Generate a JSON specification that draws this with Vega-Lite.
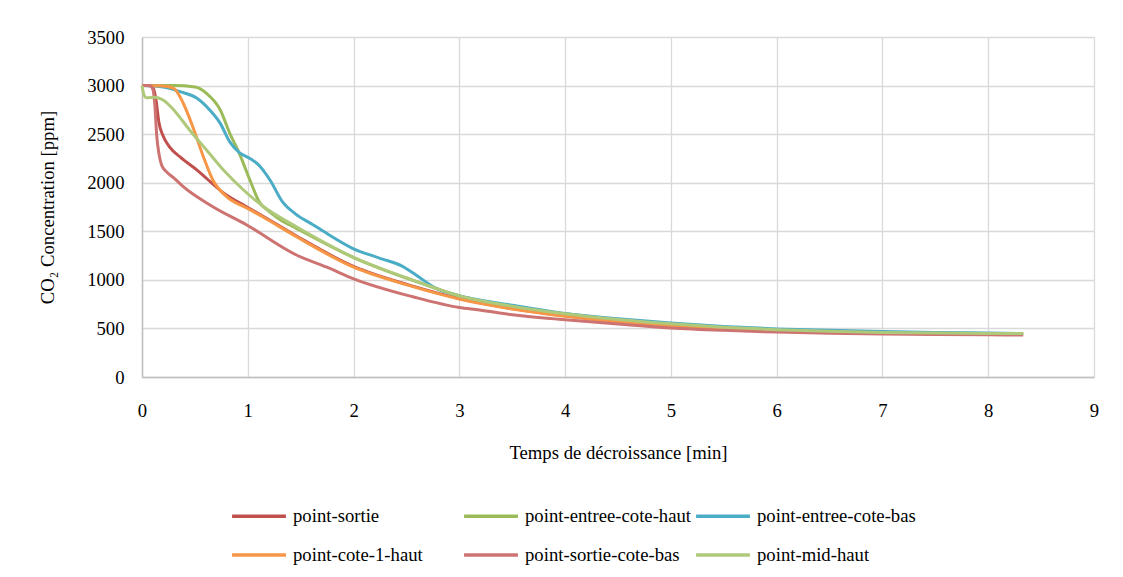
{
  "$schema": "https://vega.github.io/schema/vega-lite/v6.json",
  "autosize": {"type": "none"},
  "padding": {"left": 142, "top": 37, "right": 29, "bottom": 200},
  "width": 952,
  "height": 340,
  "background": "white",
  "config": {
    "font": "Liberation Serif",
    "view": {"stroke": null},
    "axis": {"labelFont": "Liberation Serif", "titleFont": "Liberation Serif", "labelFontSize": 18.7, "titleFontSize": 18.7, "labelColor": "#000000", "titleColor": "#000000", "titleFontWeight": "normal", "gridColor": "#D9D9D9", "gridWidth": 1.3, "ticks": false},
    "legend": {"labelFont": "Liberation Serif", "labelFontSize": 18.7, "labelColor": "#000000"}
  },
  "data": {"values": [
    {"serie": "point-sortie", "t": 0, "ppm": 3000},
    {"serie": "point-sortie", "t": 0.05, "ppm": 3000},
    {"serie": "point-sortie", "t": 0.1, "ppm": 2990},
    {"serie": "point-sortie", "t": 0.13, "ppm": 2870},
    {"serie": "point-sortie", "t": 0.16, "ppm": 2620},
    {"serie": "point-sortie", "t": 0.2, "ppm": 2480},
    {"serie": "point-sortie", "t": 0.26, "ppm": 2370},
    {"serie": "point-sortie", "t": 0.36, "ppm": 2265},
    {"serie": "point-sortie", "t": 0.52, "ppm": 2130},
    {"serie": "point-sortie", "t": 0.77, "ppm": 1895},
    {"serie": "point-sortie", "t": 1.0, "ppm": 1745},
    {"serie": "point-sortie", "t": 1.14, "ppm": 1658},
    {"serie": "point-sortie", "t": 1.46, "ppm": 1452},
    {"serie": "point-sortie", "t": 2.0, "ppm": 1138},
    {"serie": "point-sortie", "t": 2.56, "ppm": 935},
    {"serie": "point-sortie", "t": 3.0, "ppm": 808},
    {"serie": "point-sortie", "t": 3.5, "ppm": 705},
    {"serie": "point-sortie", "t": 4.0, "ppm": 630},
    {"serie": "point-sortie", "t": 4.5, "ppm": 573},
    {"serie": "point-sortie", "t": 5.0, "ppm": 528},
    {"serie": "point-sortie", "t": 5.5, "ppm": 498},
    {"serie": "point-sortie", "t": 6.0, "ppm": 476},
    {"serie": "point-sortie", "t": 6.5, "ppm": 462},
    {"serie": "point-sortie", "t": 7.0, "ppm": 452},
    {"serie": "point-sortie", "t": 7.5, "ppm": 446},
    {"serie": "point-sortie", "t": 8.0, "ppm": 442},
    {"serie": "point-sortie", "t": 8.33, "ppm": 440},

    {"serie": "point-entree-cote-haut", "t": 0, "ppm": 3000},
    {"serie": "point-entree-cote-haut", "t": 0.3, "ppm": 3000},
    {"serie": "point-entree-cote-haut", "t": 0.5, "ppm": 2985},
    {"serie": "point-entree-cote-haut", "t": 0.61, "ppm": 2920},
    {"serie": "point-entree-cote-haut", "t": 0.74, "ppm": 2749},
    {"serie": "point-entree-cote-haut", "t": 0.83, "ppm": 2508},
    {"serie": "point-entree-cote-haut", "t": 0.92, "ppm": 2302},
    {"serie": "point-entree-cote-haut", "t": 1.02, "ppm": 2028},
    {"serie": "point-entree-cote-haut", "t": 1.11, "ppm": 1800},
    {"serie": "point-entree-cote-haut", "t": 1.2, "ppm": 1705},
    {"serie": "point-entree-cote-haut", "t": 1.3, "ppm": 1625},
    {"serie": "point-entree-cote-haut", "t": 1.46, "ppm": 1530},
    {"serie": "point-entree-cote-haut", "t": 2.0, "ppm": 1230},
    {"serie": "point-entree-cote-haut", "t": 2.56, "ppm": 995},
    {"serie": "point-entree-cote-haut", "t": 3.03, "ppm": 826},
    {"serie": "point-entree-cote-haut", "t": 3.5, "ppm": 725},
    {"serie": "point-entree-cote-haut", "t": 4.0, "ppm": 650},
    {"serie": "point-entree-cote-haut", "t": 4.5, "ppm": 590},
    {"serie": "point-entree-cote-haut", "t": 5.0, "ppm": 545},
    {"serie": "point-entree-cote-haut", "t": 5.5, "ppm": 510},
    {"serie": "point-entree-cote-haut", "t": 6.0, "ppm": 485},
    {"serie": "point-entree-cote-haut", "t": 6.5, "ppm": 468},
    {"serie": "point-entree-cote-haut", "t": 7.0, "ppm": 458},
    {"serie": "point-entree-cote-haut", "t": 7.5, "ppm": 452},
    {"serie": "point-entree-cote-haut", "t": 8.0, "ppm": 449},
    {"serie": "point-entree-cote-haut", "t": 8.33, "ppm": 447},

    {"serie": "point-entree-cote-bas", "t": 0, "ppm": 3000},
    {"serie": "point-entree-cote-bas", "t": 0.2, "ppm": 2985},
    {"serie": "point-entree-cote-bas", "t": 0.36, "ppm": 2937},
    {"serie": "point-entree-cote-bas", "t": 0.52, "ppm": 2869},
    {"serie": "point-entree-cote-bas", "t": 0.64, "ppm": 2749},
    {"serie": "point-entree-cote-bas", "t": 0.74, "ppm": 2611},
    {"serie": "point-entree-cote-bas", "t": 0.83, "ppm": 2420},
    {"serie": "point-entree-cote-bas", "t": 0.92, "ppm": 2310},
    {"serie": "point-entree-cote-bas", "t": 1.02, "ppm": 2250},
    {"serie": "point-entree-cote-bas", "t": 1.11, "ppm": 2175},
    {"serie": "point-entree-cote-bas", "t": 1.21, "ppm": 2028},
    {"serie": "point-entree-cote-bas", "t": 1.33, "ppm": 1800},
    {"serie": "point-entree-cote-bas", "t": 1.45, "ppm": 1680},
    {"serie": "point-entree-cote-bas", "t": 1.62, "ppm": 1565},
    {"serie": "point-entree-cote-bas", "t": 1.77, "ppm": 1462},
    {"serie": "point-entree-cote-bas", "t": 1.99, "ppm": 1325},
    {"serie": "point-entree-cote-bas", "t": 2.25, "ppm": 1222},
    {"serie": "point-entree-cote-bas", "t": 2.47, "ppm": 1135},
    {"serie": "point-entree-cote-bas", "t": 2.59, "ppm": 1050},
    {"serie": "point-entree-cote-bas", "t": 2.78, "ppm": 913},
    {"serie": "point-entree-cote-bas", "t": 2.97, "ppm": 844},
    {"serie": "point-entree-cote-bas", "t": 3.5, "ppm": 740},
    {"serie": "point-entree-cote-bas", "t": 4.0, "ppm": 655},
    {"serie": "point-entree-cote-bas", "t": 4.5, "ppm": 600},
    {"serie": "point-entree-cote-bas", "t": 5.0, "ppm": 555},
    {"serie": "point-entree-cote-bas", "t": 5.5, "ppm": 520},
    {"serie": "point-entree-cote-bas", "t": 6.0, "ppm": 495},
    {"serie": "point-entree-cote-bas", "t": 6.5, "ppm": 480},
    {"serie": "point-entree-cote-bas", "t": 7.0, "ppm": 468},
    {"serie": "point-entree-cote-bas", "t": 7.5, "ppm": 458},
    {"serie": "point-entree-cote-bas", "t": 8.0, "ppm": 452},
    {"serie": "point-entree-cote-bas", "t": 8.33, "ppm": 448},

    {"serie": "point-cote-1-haut", "t": 0, "ppm": 3000},
    {"serie": "point-cote-1-haut", "t": 0.2, "ppm": 2995},
    {"serie": "point-cote-1-haut", "t": 0.3, "ppm": 2970},
    {"serie": "point-cote-1-haut", "t": 0.39, "ppm": 2818},
    {"serie": "point-cote-1-haut", "t": 0.48, "ppm": 2577},
    {"serie": "point-cote-1-haut", "t": 0.58, "ppm": 2268},
    {"serie": "point-cote-1-haut", "t": 0.67, "ppm": 2028},
    {"serie": "point-cote-1-haut", "t": 0.8, "ppm": 1856},
    {"serie": "point-cote-1-haut", "t": 0.99, "ppm": 1740},
    {"serie": "point-cote-1-haut", "t": 1.14, "ppm": 1650},
    {"serie": "point-cote-1-haut", "t": 1.46, "ppm": 1444},
    {"serie": "point-cote-1-haut", "t": 1.99, "ppm": 1135},
    {"serie": "point-cote-1-haut", "t": 2.56, "ppm": 930},
    {"serie": "point-cote-1-haut", "t": 3.0, "ppm": 803},
    {"serie": "point-cote-1-haut", "t": 3.19, "ppm": 758},
    {"serie": "point-cote-1-haut", "t": 3.5, "ppm": 700},
    {"serie": "point-cote-1-haut", "t": 4.0, "ppm": 626},
    {"serie": "point-cote-1-haut", "t": 4.5, "ppm": 570},
    {"serie": "point-cote-1-haut", "t": 5.0, "ppm": 526},
    {"serie": "point-cote-1-haut", "t": 5.5, "ppm": 496},
    {"serie": "point-cote-1-haut", "t": 6.0, "ppm": 474},
    {"serie": "point-cote-1-haut", "t": 6.5, "ppm": 460},
    {"serie": "point-cote-1-haut", "t": 7.0, "ppm": 450},
    {"serie": "point-cote-1-haut", "t": 7.5, "ppm": 445},
    {"serie": "point-cote-1-haut", "t": 8.0, "ppm": 441},
    {"serie": "point-cote-1-haut", "t": 8.33, "ppm": 439},

    {"serie": "point-sortie-cote-bas", "t": 0, "ppm": 3000},
    {"serie": "point-sortie-cote-bas", "t": 0.07, "ppm": 3000},
    {"serie": "point-sortie-cote-bas", "t": 0.1, "ppm": 2970},
    {"serie": "point-sortie-cote-bas", "t": 0.12, "ppm": 2820},
    {"serie": "point-sortie-cote-bas", "t": 0.14, "ppm": 2474},
    {"serie": "point-sortie-cote-bas", "t": 0.16, "ppm": 2300},
    {"serie": "point-sortie-cote-bas", "t": 0.185, "ppm": 2182},
    {"serie": "point-sortie-cote-bas", "t": 0.23, "ppm": 2114},
    {"serie": "point-sortie-cote-bas", "t": 0.3, "ppm": 2050},
    {"serie": "point-sortie-cote-bas", "t": 0.39, "ppm": 1959},
    {"serie": "point-sortie-cote-bas", "t": 0.67, "ppm": 1753},
    {"serie": "point-sortie-cote-bas", "t": 0.99, "ppm": 1565},
    {"serie": "point-sortie-cote-bas", "t": 1.46, "ppm": 1256},
    {"serie": "point-sortie-cote-bas", "t": 1.77, "ppm": 1120},
    {"serie": "point-sortie-cote-bas", "t": 1.99, "ppm": 1016},
    {"serie": "point-sortie-cote-bas", "t": 2.56, "ppm": 826},
    {"serie": "point-sortie-cote-bas", "t": 3.0, "ppm": 715},
    {"serie": "point-sortie-cote-bas", "t": 3.19, "ppm": 690},
    {"serie": "point-sortie-cote-bas", "t": 3.5, "ppm": 640},
    {"serie": "point-sortie-cote-bas", "t": 4.0, "ppm": 590},
    {"serie": "point-sortie-cote-bas", "t": 4.5, "ppm": 545},
    {"serie": "point-sortie-cote-bas", "t": 5.0, "ppm": 505},
    {"serie": "point-sortie-cote-bas", "t": 5.5, "ppm": 480},
    {"serie": "point-sortie-cote-bas", "t": 6.0, "ppm": 462},
    {"serie": "point-sortie-cote-bas", "t": 6.5, "ppm": 450},
    {"serie": "point-sortie-cote-bas", "t": 7.0, "ppm": 442},
    {"serie": "point-sortie-cote-bas", "t": 7.5, "ppm": 437},
    {"serie": "point-sortie-cote-bas", "t": 8.0, "ppm": 434},
    {"serie": "point-sortie-cote-bas", "t": 8.33, "ppm": 432},

    {"serie": "point-mid-haut", "t": 0, "ppm": 3000},
    {"serie": "point-mid-haut", "t": 0.02, "ppm": 2900},
    {"serie": "point-mid-haut", "t": 0.04, "ppm": 2875},
    {"serie": "point-mid-haut", "t": 0.12, "ppm": 2880},
    {"serie": "point-mid-haut", "t": 0.2, "ppm": 2851},
    {"serie": "point-mid-haut", "t": 0.3, "ppm": 2749},
    {"serie": "point-mid-haut", "t": 0.45, "ppm": 2543},
    {"serie": "point-mid-haut", "t": 0.61, "ppm": 2337},
    {"serie": "point-mid-haut", "t": 0.77, "ppm": 2131},
    {"serie": "point-mid-haut", "t": 0.96, "ppm": 1925},
    {"serie": "point-mid-haut", "t": 1.14, "ppm": 1760},
    {"serie": "point-mid-haut", "t": 1.46, "ppm": 1547},
    {"serie": "point-mid-haut", "t": 1.99, "ppm": 1238},
    {"serie": "point-mid-haut", "t": 2.56, "ppm": 998},
    {"serie": "point-mid-haut", "t": 3.03, "ppm": 826},
    {"serie": "point-mid-haut", "t": 3.5, "ppm": 728},
    {"serie": "point-mid-haut", "t": 4.0, "ppm": 650},
    {"serie": "point-mid-haut", "t": 4.5, "ppm": 592},
    {"serie": "point-mid-haut", "t": 5.0, "ppm": 547},
    {"serie": "point-mid-haut", "t": 5.5, "ppm": 512},
    {"serie": "point-mid-haut", "t": 6.0, "ppm": 487},
    {"serie": "point-mid-haut", "t": 6.5, "ppm": 470},
    {"serie": "point-mid-haut", "t": 7.0, "ppm": 459},
    {"serie": "point-mid-haut", "t": 7.5, "ppm": 453},
    {"serie": "point-mid-haut", "t": 8.0, "ppm": 449},
    {"serie": "point-mid-haut", "t": 8.33, "ppm": 447}
  ]},
  "mark": {"type": "line", "interpolate": "monotone", "strokeWidth": 3},
  "encoding": {
    "x": {
      "field": "t", "type": "quantitative",
      "scale": {"domain": [0, 9], "nice": false},
      "axis": {"values": [0,1,2,3,4,5,6,7,8,9], "title": "Temps de décroissance [min]", "labelPadding": 24, "labelFlush": false, "domainColor": "#BFBFBF", "domainWidth": 1.5, "titleY": 75, "titleBaseline": "middle", "format": "d"}
    },
    "y": {
      "field": "ppm", "type": "quantitative",
      "scale": {"domain": [0, 3500], "nice": false},
      "axis": {"values": [0,500,1000,1500,2000,2500,3000,3500], "format": "d", "title": "CO₂ Concentration [ppm]", "labelPadding": 18, "labelFlush": false, "domainColor": "#BFBFBF", "domainWidth": 1.5, "titleX": -95, "titleY": 170, "titleBaseline": "middle", "titleAlign": "center"}
    },
    "color": {
      "field": "serie", "type": "nominal",
      "scale": {
        "domain": ["point-sortie", "point-entree-cote-haut", "point-entree-cote-bas", "point-cote-1-haut", "point-sortie-cote-bas", "point-mid-haut"],
        "range": ["#C0504D", "#9BBB59", "#4BACC6", "#F79646", "#CD7371", "#AFC97A"]
      },
      "legend": {
        "title": null, "orient": "none", "legendX": 88, "legendY": 450,
        "columns": 3, "direction": "horizontal", "gridAlign": "all",
        "labelFont": "Liberation Serif", "labelFontSize": 18.7, "labelColor": "#000000", "labelLimit": 400,
        "symbolType": "stroke", "symbolSize": 2900, "symbolStrokeWidth": 3.5,
        "labelOffset": 5, "columnPadding": -3, "rowPadding": -21,
        "encode": {"labels": {"update": {"font": {"value": "Liberation Serif"}, "fontSize": {"value": 18.7}}}}
      }
    }
  }
}
